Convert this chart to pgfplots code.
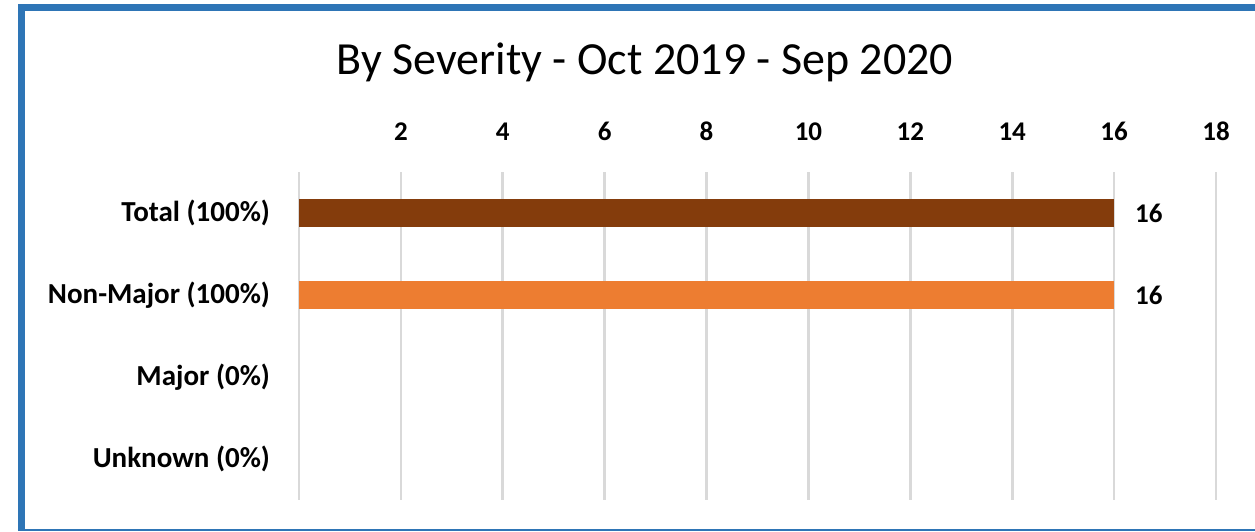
\documentclass[border=0pt]{standalone}
\usepackage{fontspec}
\setmainfont{Carlito}
\usepackage{pgfplots}
\pgfplotsset{compat=1.18}
\definecolor{framblue}{HTML}{2E75B6}
\definecolor{totbrown}{HTML}{843C0C}
\definecolor{nmorange}{HTML}{ED7D31}
\definecolor{gridgray}{HTML}{D9D9D9}

\begin{document}
\begin{tikzpicture}
% picture box: 1255x531 px at 0.5pt per px, origin at the axis' lower left corner
\useasboundingbox (-149.5pt,-15.5pt) rectangle (478pt,250pt);
\fill[white] (-149.5pt,-15.5pt) rectangle (478pt,250pt);
\draw[framblue,line width=3.5pt] (490pt,246pt) -- (-138.75pt,246pt) -- (-138.75pt,-14.6pt);
\draw[framblue,line width=0.9pt] (-140.5pt,-14.8pt) -- (490pt,-14.8pt);
\begin{axis}[
  at={(0,0)}, anchor=south west,
  scale only axis,
  width=458.5pt,
  height=164pt,
  xmin=0, xmax=18,
  ymin=-0.5, ymax=3.5,
  y dir=reverse,
  xtick={0,2,...,18},
  xticklabels={,2,4,6,8,10,12,14,16,18},
  xticklabel pos=upper,
  ytick={0,1,2,3},
  yticklabels={Total (100\%),Non-Major (100\%),Major (0\%),Unknown (0\%)},
  axis line style={draw=none},
  major tick length=0pt,
  xmajorgrids=true,
  grid style={gridgray,line width=1.3pt},
  /pgf/number format/assume math mode=true,
  xticklabel style={font=\fontsize{13.5}{15}\selectfont\bfseries,anchor=south,yshift=12pt},
  yticklabel style={font=\fontsize{14.5}{16}\selectfont\bfseries,anchor=east,xshift=-11pt},
  nodes near coords style={font=\fontsize{13.5}{15}\selectfont\bfseries,anchor=west,xshift=7pt},
  clip=false
]
\addplot[xbar,bar width=14pt,bar shift=0pt,fill=totbrown,draw=none,nodes near coords] coordinates {(16,0)};
\addplot[xbar,bar width=14pt,bar shift=0pt,fill=nmorange,draw=none,nodes near coords] coordinates {(16,1)};
\end{axis}
\node[font=\fontsize{23}{26}\selectfont] at (173pt,219pt) {By Severity - Oct 2019 - Sep 2020};
\end{tikzpicture}
\end{document}
